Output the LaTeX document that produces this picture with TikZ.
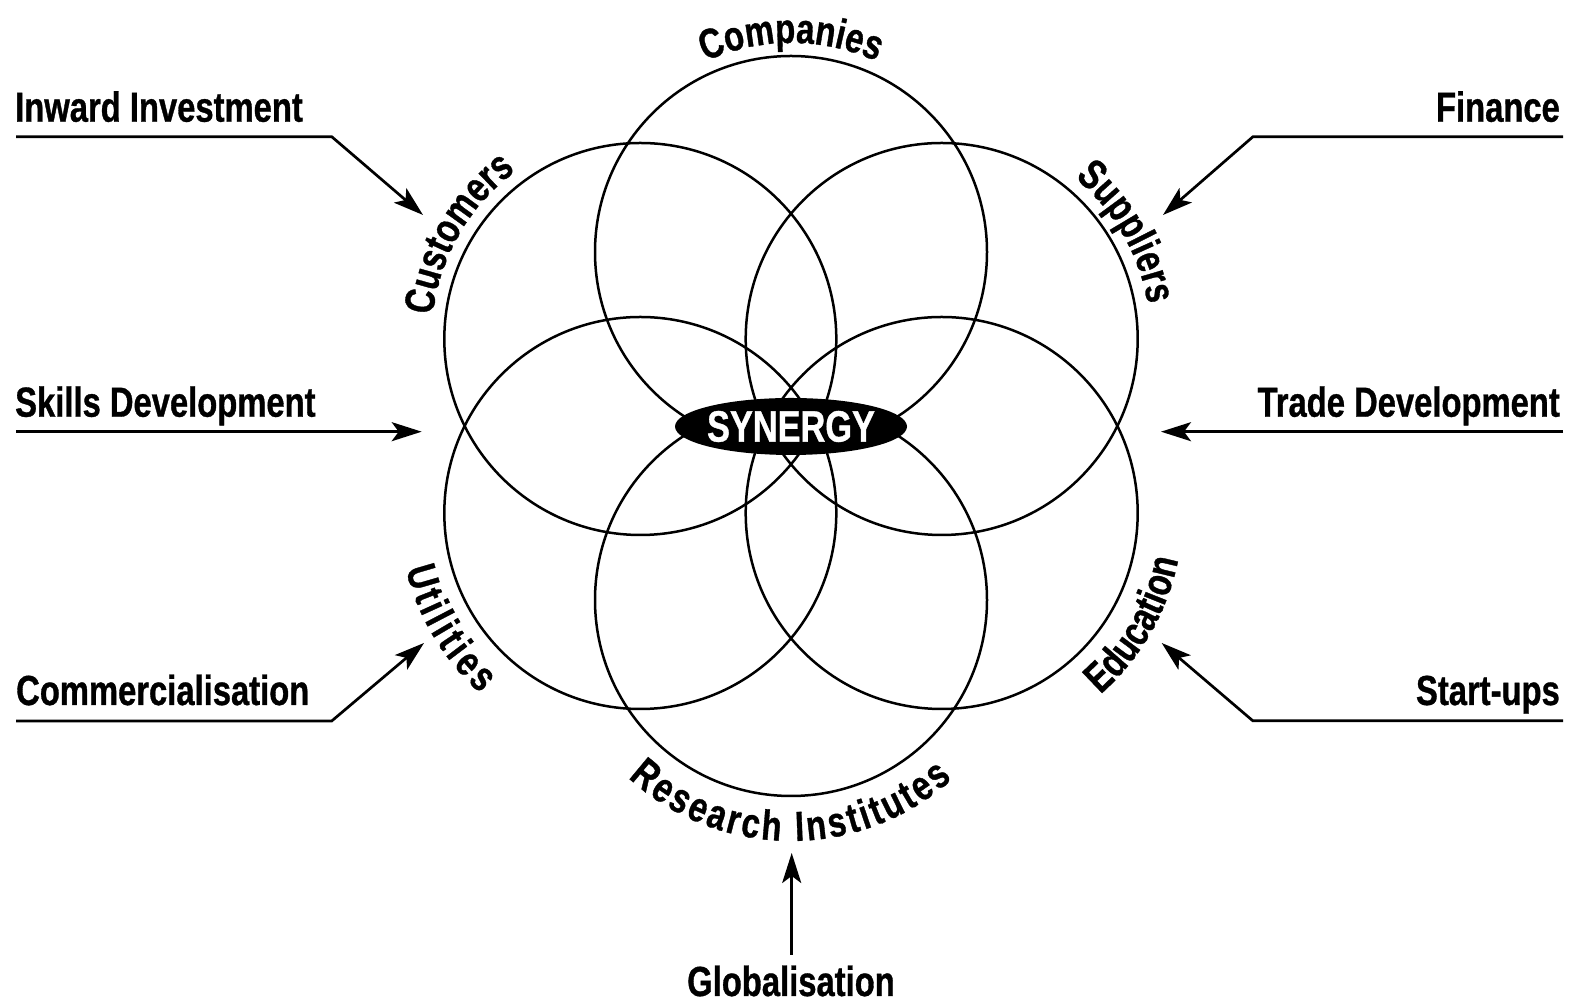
\documentclass[tikz,border=0pt]{standalone}
\usepackage{fontspec}
\setmainfont{Liberation Sans}
\newfontfamily\lblfamily[FakeStretch=0.78,FakeBold=0.8]{Liberation Sans}
\newcommand\lbl{\lblfamily\bfseries\fontsize{42}{48}\selectfont}
\usetikzlibrary{shapes.geometric,decorations.text,arrows.meta}
\begin{document}
\begin{tikzpicture}[x=1pt,y=1pt,
  lab/.style={inner sep=0pt, font=\lbl},
  ring/.style={circle, draw=black, line width=2.5pt, inner sep=0pt, minimum size=392pt},
  arr/.style={line width=2.7pt, -{Stealth[length=30pt,width=19pt,inset=7pt]}},
  curvelab/.style={decorate, decoration={text along path, text align=center, text={|\lbl|#1}}},
  fitlab/.style={decorate, decoration={text along path, text align=fit to path, text={|\lbl|#1}}}]
\useasboundingbox (0,0) rectangle (1580,1003);
% circles
\node[ring] (comp) at (791,751) {};
\node[ring] (cust) at (640.3,664) {};
\node[ring] (supp) at (941.7,664) {};
\node[ring] (util) at (640.3,490) {};
\node[ring] (rese) at (791,403) {};
\node[ring] (educ) at (941.7,490) {};
% synergy
\node[ellipse, fill=black, inner sep=0pt, minimum width=232pt, minimum height=57pt] (syn) at (791,576.5) {};
\node[inner sep=0pt, text=white, font=\lblfamily\bfseries\fontsize{44}{48}\selectfont] (synt) at (791,576.5) {SYNERGY};
% curved labels
\path[curvelab=Companies] (comp.center) ++(150:209) arc[start angle=150, end angle=30, radius=209];
\path[curvelab=Customers] (cust.center) ++(210:209) arc[start angle=210, end angle=90, radius=209];
\path[curvelab=Suppliers] (supp.center) ++(90:209) arc[start angle=90, end angle=-30, radius=209];
\path[fitlab=Utilities] (util.center) ++(193.5:241) arc[start angle=193.5, end angle=228.5, radius=241];
\path[fitlab=Research Institutes] (rese.center) ++(227.5:241) arc[start angle=227.5, end angle=312, radius=241];
\path[curvelab=Education] (educ.center) ++(270:241) arc[start angle=270, end angle=390, radius=241];
% outer labels
\node[lab, anchor=base west] (inw) at (15,881.3) {Inward Investment};
\node[lab, anchor=base east] (fin) at (1560,881.3) {Finance};
\node[lab, anchor=base west] (ski) at (15,586.3) {Skills Development};
\node[lab, anchor=base east] (tra) at (1560,586.3) {Trade Development};
\node[lab, anchor=base west] (com) at (16,298) {Commercialisation};
\node[lab, anchor=base east] (sta) at (1560,298) {Start-ups};
\node[lab, anchor=base] (glo) at (791,7) {Globalisation};
% arrow coordinates
\coordinate (inwA) at (16,866.3);   \coordinate (inwB) at (331.7,866.3);  \coordinate (inwT) at (423,788);
\coordinate (finA) at (1563,866.3); \coordinate (finB) at (1253,866.3);   \coordinate (finT) at (1163,788);
\coordinate (skiA) at (16,571.3);   \coordinate (skiT) at (421.7,571.3);
\coordinate (traA) at (1563,571.3); \coordinate (traT) at (1161,571.3);
\coordinate (comA) at (16,282);     \coordinate (comB) at (331.7,282);    \coordinate (comT) at (424,360);
\coordinate (staA) at (1563,282.3); \coordinate (staB) at (1252.7,282.3); \coordinate (staT) at (1161.7,360);
\coordinate (gloA) at (791.7,48);   \coordinate (gloT) at (791.7,150);
\draw[arr] (inwA) -- (inwB) -- (inwT);
\draw[arr] (finA) -- (finB) -- (finT);
\draw[arr] (skiA) -- (skiT);
\draw[arr] (traA) -- (traT);
\draw[arr] (comA) -- (comB) -- (comT);
\draw[arr] (staA) -- (staB) -- (staT);
\draw[arr] (gloA) -- (gloT);
\end{tikzpicture}
\end{document}
